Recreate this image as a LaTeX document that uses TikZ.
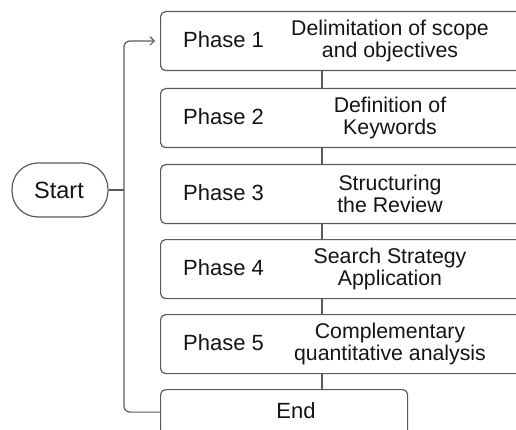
\documentclass[tikz,border=0pt]{standalone}
\usepackage{fontspec}
\setmainfont{Liberation Sans}
\usetikzlibrary{arrows.meta}
\definecolor{edge}{HTML}{5A5A5A}
\definecolor{ink}{HTML}{141414}
\begin{document}
\begin{tikzpicture}[x=1pt,y=-1pt,
  box/.style={draw=edge, line width=1.2pt, rounded corners=5pt, anchor=north west, inner sep=0pt},
  phaselbl/.style={anchor=west, text=ink, font=\fontsize{22}{24}\selectfont, inner sep=0pt},
  desc/.style={align=center, text=ink, font=\fontsize{21.3}{21.5}\selectfont, inner sep=0pt},
  link/.style={draw=edge, line width=1.2pt}
]
\path[use as bounding box] (0,0) rectangle (516,430);
\clip (0,0) rectangle (516,430);

\node[box, minimum width=380pt, minimum height=59pt] (p1) at (160,11) {};
\node[box, minimum width=380pt, minimum height=59pt] (p2) at (160,88) {};
\node[box, minimum width=380pt, minimum height=59pt] (p3) at (160,164) {};
\node[box, minimum width=380pt, minimum height=59pt] (p4) at (160,239) {};
\node[box, minimum width=380pt, minimum height=59pt] (p5) at (160,314) {};
\node[box, minimum width=247pt, minimum height=45pt] (end) at (160,389) {};
\node[draw=edge, line width=1.2pt, rounded corners=26pt, minimum width=96pt, minimum height=54pt, inner sep=0pt] (start) at (60,190) {};

\node[phaselbl] (l1) at (183,40) {Phase 1};
\node[phaselbl] (l2) at (183,117) {Phase 2};
\node[phaselbl] (l3) at (183,193) {Phase 3};
\node[phaselbl] (l4) at (183,268) {Phase 4};
\node[phaselbl] (l5) at (183,343) {Phase 5};

\node[desc] (d1) at (390,41) {Delimitation of scope\\and objectives};
\node[desc] (d2) at (390,118) {Definition of\\Keywords};
\node[desc] (d3) at (390,194) {Structuring\\the Review};
\node[desc] (d4) at (390,269) {Search Strategy\\Application};
\node[desc] (d5) at (390,344) {Complementary\\quantitative analysis};

\node[text=ink, font=\fontsize{22}{24}\selectfont] (endlbl) at (296,411) {End};
\node[text=ink, font=\fontsize{23.5}{26}\selectfont] (startlbl) at (59,190) {Start};

\draw[link] ([xshift=162pt]p1.south west) -- ([xshift=162pt]p2.north west);
\draw[link] ([xshift=162pt]p2.south west) -- ([xshift=162pt]p3.north west);
\draw[link] ([xshift=162pt]p3.south west) -- ([xshift=162pt]p4.north west);
\draw[link] ([xshift=162pt]p4.south west) -- ([xshift=162pt]p5.north west);
\draw[link] ([xshift=162pt]p5.south west) -- ([xshift=162pt]end.north west);

\coordinate (j) at (124,190);
\coordinate (a) at (155,41);
\draw[link] (start.east) -- (j);
\draw[link, rounded corners=6pt, -{Straight Barb[length=4pt,width=8pt,line width=1.2pt]}] (end.west) -| (j) |- (a);
\end{tikzpicture}
\end{document}
